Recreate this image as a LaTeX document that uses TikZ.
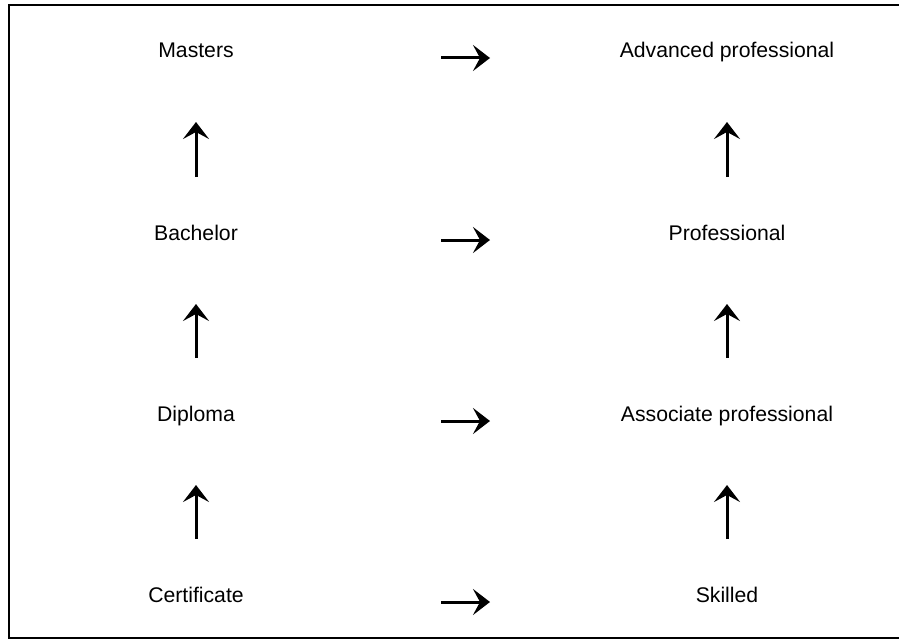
\documentclass[tikz,border=0pt]{standalone}
\usepackage{fontspec}
\setmainfont{Liberation Sans}
\usepackage{xcolor}
\usepackage{tikz}
\usetikzlibrary{arrows.meta}

\begin{document}
\begin{tikzpicture}[x=0.5pt,y=-0.5pt,
	lbl/.style={anchor=base,inner sep=0pt,font=\fontsize{10.6pt}{12pt}\selectfont},
	arr/.style={-{Stealth[length=8.5pt,width=13pt,inset=3.5pt]},line width=1.5pt},
	harr/.style={arr,shorten <=122.5pt,shorten >=118.5pt},
	varr/.style={arr,shorten <=31.5pt,shorten >=32pt}]
	\useasboundingbox (0,0) rectangle (899,642);
	\draw[line width=1pt] (904,5) -- (9,5) -- (9,638) -- (904,638);
	
	\node[lbl] (masters) at (196,58) {Masters};
	\node[lbl] (bachelor) at (196,240) {Bachelor};
	\node[lbl] (diploma) at (196,421) {Diploma};
	\node[lbl] (certificate) at (196,602) {Certificate};
	
	\node[lbl] (advprof) at (727,58) {Advanced professional};
	\node[lbl] (prof) at (727,240) {Professional};
	\node[lbl] (assocprof) at (727,421) {Associate professional};
	\node[lbl] (skilled) at (727,602) {Skilled};
	
	\draw[harr] (masters.base) -- (advprof.base);
	\draw[harr] (bachelor.base) -- (prof.base);
	\draw[harr] (diploma.base) -- (assocprof.base);
	\draw[harr] (certificate.base) -- (skilled.base);
	
	\draw[varr] (bachelor.base) -- (masters.base);
	\draw[varr] (diploma.base) -- (bachelor.base);
	\draw[varr] (certificate.base) -- (diploma.base);
	\draw[varr] (prof.base) -- (advprof.base);
	\draw[varr] (assocprof.base) -- (prof.base);
	\draw[varr] (skilled.base) -- (assocprof.base);
\end{tikzpicture}
\end{document}
